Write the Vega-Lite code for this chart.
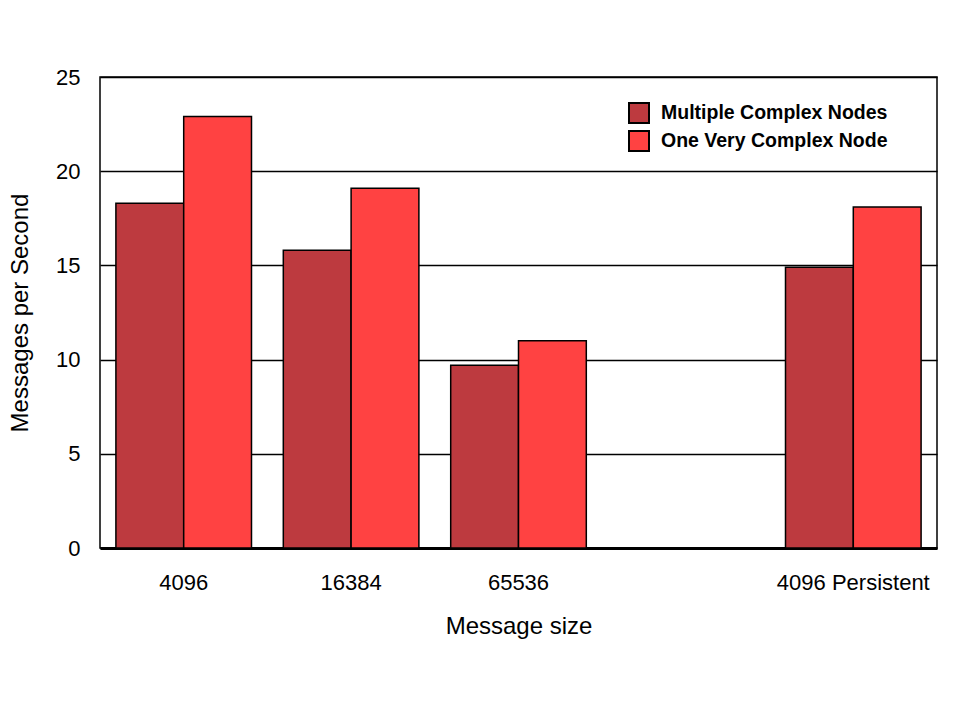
{
  "$schema": "https://vega.github.io/schema/vega-lite/v6.json",
  "width": 837,
  "height": 471,
  "autosize": {"type": "none"},
  "padding": {"left": 100, "top": 77, "right": 22, "bottom": 154},
  "background": "white",
  "config": {
    "font": "Liberation Sans",
    "view": {"stroke": "black", "strokeWidth": 1.5}
  },
  "data": {
    "values": [
      {"size": "4096", "series": "Multiple Complex Nodes", "rate": 18.3},
      {"size": "4096", "series": "One Very Complex Node", "rate": 22.9},
      {"size": "16384", "series": "Multiple Complex Nodes", "rate": 15.8},
      {"size": "16384", "series": "One Very Complex Node", "rate": 19.1},
      {"size": "65536", "series": "Multiple Complex Nodes", "rate": 9.7},
      {"size": "65536", "series": "One Very Complex Node", "rate": 11.0},
      {"size": "4096 Persistent", "series": "Multiple Complex Nodes", "rate": 14.9},
      {"size": "4096 Persistent", "series": "One Very Complex Node", "rate": 18.1}
    ]
  },
  "mark": {"type": "bar", "stroke": "black", "strokeWidth": 1.5},
  "encoding": {
    "x": {
      "field": "size",
      "type": "nominal",
      "scale": {"domain": ["4096", "16384", "65536", " ", "4096 Persistent"], "paddingInner": 0.19, "paddingOuter": 0.095},
      "axis": {
        "title": "Message size",
        "labelAngle": 0,
        "labelFontSize": 22,
        "labelColor": "black",
        "labelBaseline": "alphabetic",
        "labelPadding": 41,
        "ticks": false,
        "tickSize": 0,
        "domainColor": "black",
        "domainWidth": 3,
        "grid": false,
        "titleFontSize": 24,
        "titleFontWeight": "normal",
        "titleColor": "black",
        "titleBaseline": "alphabetic",
        "titleY": 85
      }
    },
    "xOffset": {
      "field": "series",
      "type": "nominal",
      "scale": {"paddingInner": 0, "paddingOuter": 0}
    },
    "y": {
      "field": "rate",
      "type": "quantitative",
      "scale": {"domain": [0, 25], "nice": false},
      "axis": {
        "title": "Messages per Second",
        "values": [0, 5, 10, 15, 20, 25],
        "labelFontSize": 22,
        "labelColor": "black",
        "labelPadding": 20,
        "ticks": false,
        "tickSize": 0,
        "domain": false,
        "grid": true,
        "gridColor": "black",
        "gridWidth": 1.5,
        "gridOpacity": 1,
        "titleFontSize": 24,
        "titleFontWeight": "normal",
        "titleColor": "black",
        "titleX": -80,
        "titleY": 235.5,
        "titleAngle": 270,
        "titleAlign": "center",
        "titleBaseline": "middle"
      }
    },
    "color": {
      "field": "series",
      "type": "nominal",
      "scale": {"domain": ["Multiple Complex Nodes", "One Very Complex Node"], "range": ["#bd3a3f", "#ff4242"]},
      "legend": {
        "title": null,
        "orient": "none",
        "legendX": 528,
        "legendY": 25,
        "padding": 0,
        "symbolType": "square",
        "symbolSize": 400,
        "symbolStrokeColor": "black",
        "symbolStrokeWidth": 2,
        "symbolOpacity": 1,
        "labelFontSize": 19.5,
        "labelFontWeight": "bold",
        "labelColor": "black",
        "labelOffset": 11,
        "rowPadding": 0,
        "labelLimit": 400
      }
    }
  }
}
